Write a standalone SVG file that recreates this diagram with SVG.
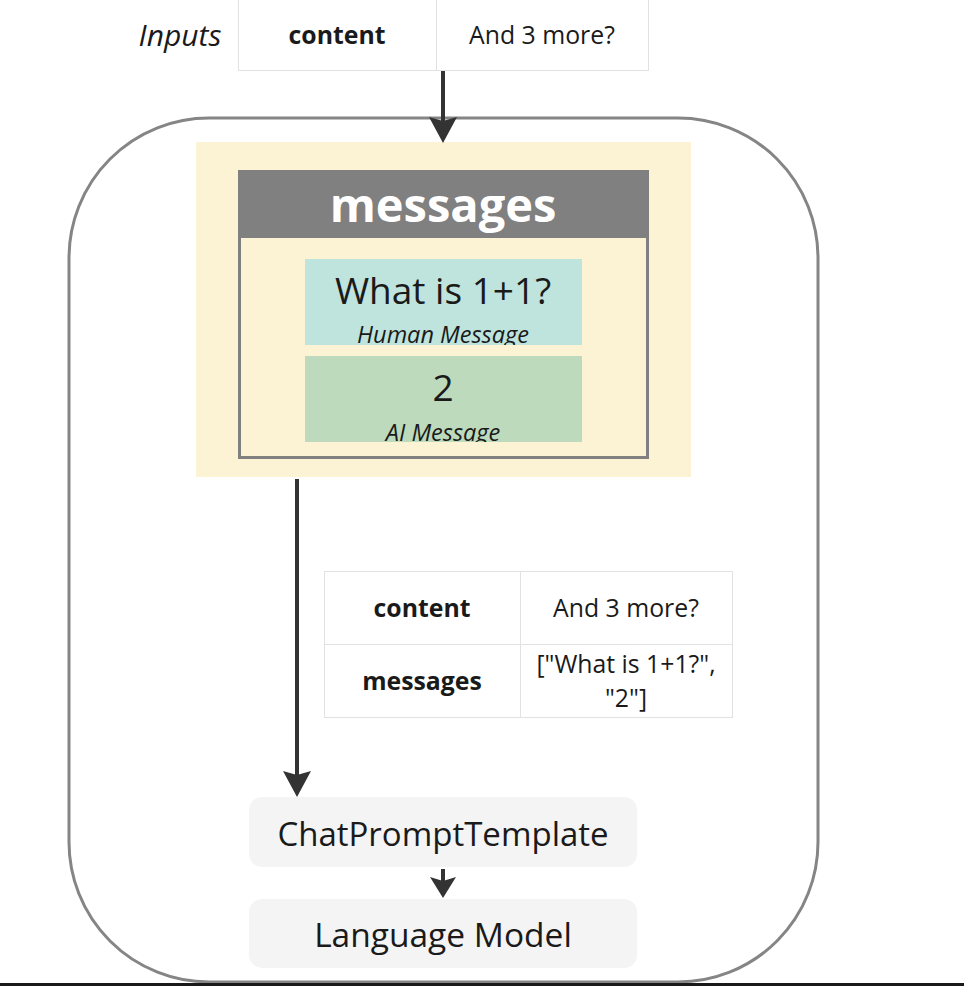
<svg xmlns="http://www.w3.org/2000/svg" width="964" height="986" viewBox="0 0 964 986">
<defs>
<style>
text{font-family:"Open Sans","Noto Sans","Liberation Sans",sans-serif;fill:#1a1a1a;text-anchor:middle}
.b{font-weight:bold}
.it{font-style:italic}
.cell{fill:#ffffff;stroke:#e2e2e2;stroke-width:1}
.conn{stroke:#333333;stroke-width:4;fill:none}
.head{fill:#333333}
.box{fill:#f4f4f4}
</style>
<clipPath id="clipH"><rect x="305" y="259" width="277" height="86"/></clipPath>
<clipPath id="clipA"><rect x="305" y="356" width="277" height="86"/></clipPath>
</defs>
<rect x="0" y="0" width="964" height="986" fill="#ffffff"/>

<g id="outer">
<rect x="69" y="118" width="749" height="864" rx="140" ry="140" fill="none" stroke="#858585" stroke-width="3"/>
</g>

<g id="inputs">
<text x="180" y="46" class="it" font-size="30">Inputs</text>
<rect class="cell" x="238.5" y="-1" width="198" height="71.5"/>
<rect class="cell" x="436.5" y="-1" width="212" height="71.5"/>
<text x="337" y="44" class="b" font-size="24.8">content</text>
<text x="542" y="44" font-size="24.8">And 3 more?</text>
</g>

<g id="messages-block">
<rect x="196" y="142" width="495" height="335" fill="#fcf3d5"/>
<rect x="239.5" y="171.5" width="408" height="286" fill="#fcf3d5" stroke="#808080" stroke-width="3"/>
<rect x="238" y="170" width="411" height="68" fill="#808080"/>
<text x="443" y="222" class="b" font-size="47" style="fill:#ffffff">messages</text>
</g>

<g id="human-message">
<rect x="305" y="259" width="277" height="86" fill="#bee4dd"/>
<g clip-path="url(#clipH)">
<text x="443" y="304" font-size="37">What is 1+1?</text>
<text x="443" y="343" class="it" font-size="23.5">Human Message</text>
</g>
</g>

<g id="ai-message">
<rect x="305" y="356" width="277" height="86" fill="#bddbbc"/>
<g clip-path="url(#clipA)">
<text x="443" y="401" font-size="37">2</text>
<text x="443" y="441" class="it" font-size="23.5">AI Message</text>
</g>
</g>

<g id="state-table">
<rect class="cell" x="324.5" y="571.5" width="196" height="73"/>
<rect class="cell" x="520.5" y="571.5" width="212" height="73"/>
<rect class="cell" x="324.5" y="644.5" width="196" height="73"/>
<rect class="cell" x="520.5" y="644.5" width="212" height="73"/>
<text x="422" y="617" class="b" font-size="24.8">content</text>
<text x="626" y="617" font-size="24.8">And 3 more?</text>
<text x="422" y="690" class="b" font-size="24.8">messages</text>
<text x="626" y="673" font-size="24.8">["What is 1+1?",</text>
<text x="626" y="707" font-size="24.8">"2"]</text>
</g>

<g id="chat-prompt-template">
<rect class="box" x="249" y="797" width="388" height="70" rx="13"/>
<text x="443" y="846" font-size="33">ChatPromptTemplate</text>
</g>

<g id="language-model">
<rect class="box" x="249" y="899" width="388" height="69" rx="13"/>
<text x="443" y="947" font-size="33.5">Language Model</text>
</g>

<g id="connectors">
<line class="conn" x1="443" y1="71" x2="443" y2="122"/>
<path class="head" d="M429,117 L443,121 L457,117 L443,143 Z"/>
<line class="conn" x1="297" y1="479" x2="297" y2="776"/>
<path class="head" d="M283,771 L297,775 L311,771 L297,797 Z"/>
<line class="conn" x1="443" y1="869" x2="443" y2="882"/>
<path class="head" d="M430,877 L443,881 L456,877 L443,898 Z"/>
</g>

<rect x="0" y="983" width="964" height="3" fill="#1a1a1a"/>
</svg>
